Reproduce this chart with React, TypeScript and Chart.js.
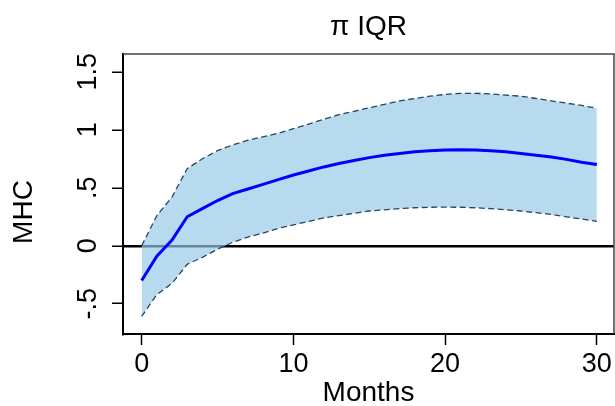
import React, { useEffect, useRef } from "react";
import { Chart, registerables } from "chart.js";

Chart.register(...registerables);

const FONT = "'Liberation Sans', Arial, Helvetica, sans-serif";

const months = [0, 1, 2, 3, 4, 5, 6, 7, 8, 9, 10, 11, 12, 13, 14, 15, 16, 17, 18, 19, 20, 21, 22, 23, 24, 25, 26, 27, 28, 29, 30];

const mhc = [-0.3, -0.09, 0.05, 0.25, 0.32, 0.39, 0.45, 0.49, 0.53, 0.57, 0.61, 0.645, 0.68, 0.71, 0.735, 0.76, 0.78, 0.795, 0.81, 0.82, 0.825, 0.827, 0.825, 0.82, 0.81, 0.795, 0.78, 0.765, 0.745, 0.72, 0.7];

const upper = [0.0, 0.26, 0.42, 0.665, 0.75, 0.82, 0.87, 0.91, 0.94, 0.97, 1.01, 1.05, 1.09, 1.13, 1.16, 1.19, 1.22, 1.25, 1.27, 1.29, 1.305, 1.315, 1.315, 1.31, 1.3, 1.29, 1.27, 1.25, 1.23, 1.21, 1.185];

const lower = [-0.61, -0.42, -0.325, -0.16, -0.1, -0.03, 0.03, 0.075, 0.11, 0.15, 0.18, 0.21, 0.24, 0.26, 0.28, 0.3, 0.31, 0.32, 0.328, 0.332, 0.333, 0.332, 0.328, 0.32, 0.31, 0.3, 0.285, 0.27, 0.25, 0.23, 0.21];

const xTicks = [0, 10, 20, 30];
const yTicks = [-0.5, 0, 0.5, 1, 1.5];
const yTickLabels = ["-.5", "0", ".5", "1", "1.5"];

const titleText = "π IQR";
const xTitle = "Months";
const yTitle = "MHC";

const boxPlugin = {
  id: "plotBox",
  afterDraw(chart: any) {
    const { ctx, chartArea } = chart;
    ctx.save();
    ctx.strokeStyle = "#444";
    ctx.lineWidth = 1.5;
    ctx.beginPath();
    ctx.moveTo(chartArea.left, chartArea.top);
    ctx.lineTo(chartArea.right, chartArea.top);
    ctx.lineTo(chartArea.right, chartArea.bottom);
    ctx.stroke();
    ctx.restore();
  },
};

const yTitlePlugin = {
  id: "yTitle",
  afterDraw(chart: any) {
    const { ctx } = chart;
    ctx.save();
    ctx.translate(24, 212);
    ctx.rotate(-Math.PI / 2);
    ctx.font = `28px ${FONT}`;
    ctx.fillStyle = "#000";
    ctx.textAlign = "center";
    ctx.textBaseline = "middle";
    ctx.fillText(yTitle, 0, 0);
    ctx.restore();
  },
};

export default function App() {
  const ref = useRef<HTMLCanvasElement | null>(null);

  useEffect(() => {
    if (!ref.current) return;
    const toPts = (arr: number[]) => months.map((m, i) => ({ x: m, y: arr[i] }));
    const chart = new Chart(ref.current, {
      type: "line",
      data: {
        datasets: [
          {
            label: "MHC",
            data: toPts(mhc),
            borderColor: "#0000ff",
            borderWidth: 3,
            pointRadius: 0,
            fill: false,
            tension: 0,
          },
          {
            label: "upper",
            data: toPts(upper),
            borderColor: "#27455f",
            borderWidth: 1.3,
            borderDash: [6, 3.5],
            pointRadius: 0,
            fill: false,
            tension: 0,
          },
          {
            label: "lower",
            data: toPts(lower),
            borderColor: "#27455f",
            borderWidth: 1.3,
            borderDash: [6, 3.5],
            pointRadius: 0,
            fill: "-1",
            backgroundColor: "rgba(150,200,232,0.68)",
            tension: 0,
          },
        ],
      },
      options: {
        responsive: false,
        animation: false,
        layout: { padding: { top: 0, right: 1, left: 0, bottom: 0 } },
        plugins: {
          legend: { display: false },
          tooltip: { enabled: false },
          title: {
            display: true,
            text: titleText,
            fullSize: false,
            color: "#000",
            font: { family: FONT, size: 28, weight: "normal", lineHeight: 1.2 },
            padding: { top: 10.5, bottom: 10 },
          },
        },
        scales: {
          x: {
            type: "linear",
            min: -1.23,
            max: 31.13,
            afterFit: (s: any) => {
              s.height = 72;
            },
            afterBuildTicks: (s: any) => {
              s.ticks = xTicks.map((v) => ({ value: v }));
            },
            ticks: {
              color: "#000",
              font: { family: FONT, size: 27 },
              padding: 3,
              maxRotation: 0,
              autoSkip: false,
              callback: (v: any) => String(v),
            },
            grid: {
              drawOnChartArea: false,
              tickLength: 11,
              tickColor: "#000",
              tickWidth: 1.5,
            },
            border: { display: true, color: "#000", width: 2 },
            title: {
              display: true,
              text: xTitle,
              color: "#000",
              font: { family: FONT, size: 28, lineHeight: 0.93 },
              padding: 0,
            },
          },
          y: {
            type: "linear",
            min: -0.761,
            max: 1.653,
            afterFit: (s: any) => {
              s.width = 123;
            },
            afterBuildTicks: (s: any) => {
              s.ticks = yTicks.map((v) => ({ value: v }));
            },
            ticks: {
              color: "#000",
              font: { family: FONT, size: 27 },
              minRotation: 90,
              maxRotation: 90,
              crossAlign: "center",
              padding: 4.5,
              autoSkip: false,
              callback: (_v: any, i: number) => yTickLabels[i],
            },
            grid: {
              color: (c: any) => (c.tick && c.tick.value === 0 ? "#000" : "rgba(0,0,0,0)"),
              lineWidth: 2.5,
              tickColor: "#000",
              tickWidth: 1.5,
              tickLength: 11,
            },
            border: { display: true, color: "#000", width: 2 },
          },
        },
      } as any,
      plugins: [boxPlugin, yTitlePlugin],
    });
    return () => chart.destroy();
  }, []);

  return (
    <div style={{ position: "fixed", left: 0, top: 0, width: 615, height: 406, background: "#fff" }}>
      <canvas ref={ref} width={615} height={406} style={{ display: "block" }} />
    </div>
  );
}
